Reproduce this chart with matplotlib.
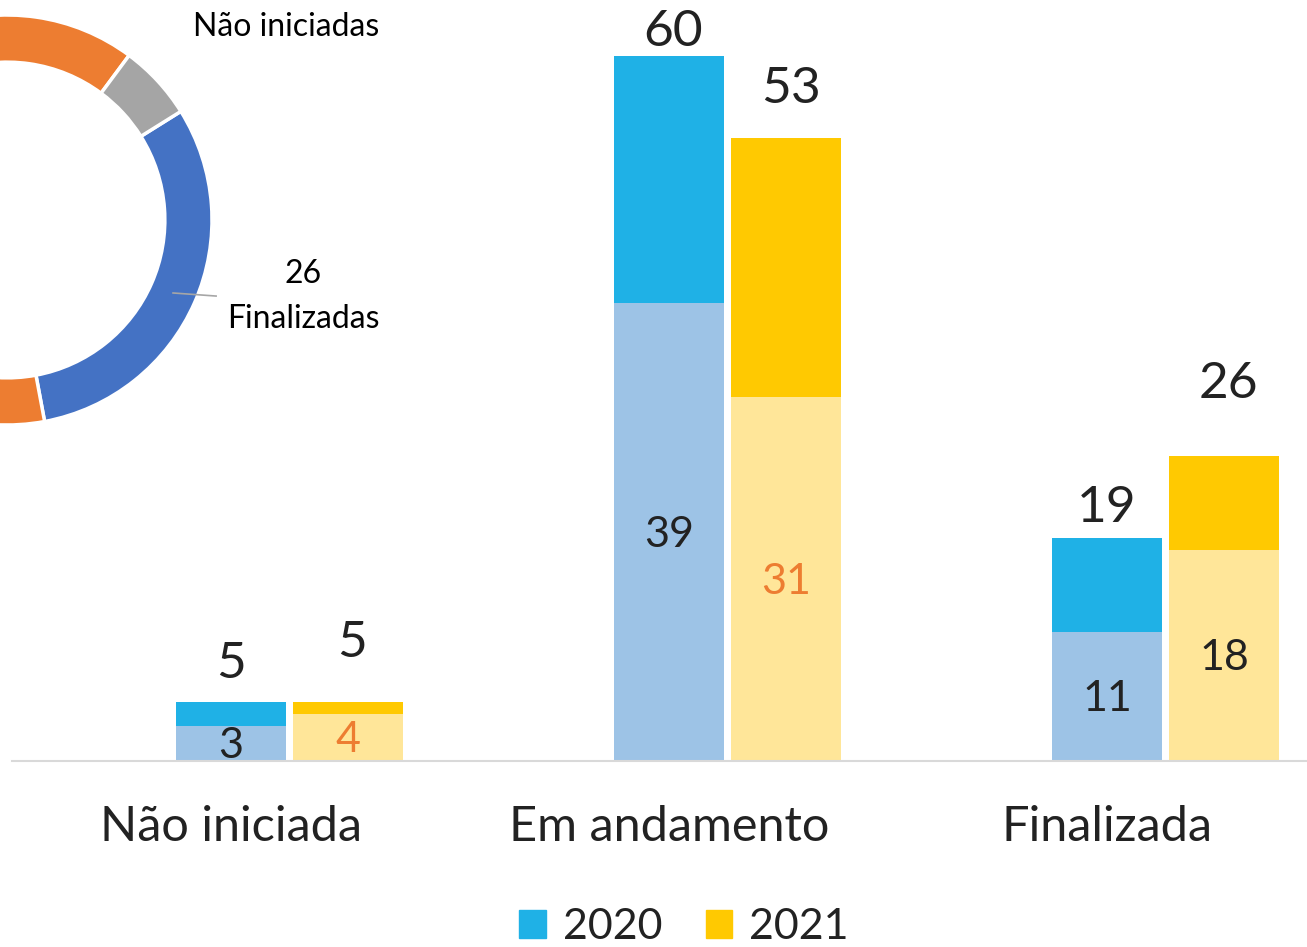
import matplotlib.pyplot as plt
from matplotlib.patches import Patch

plt.rcParams['font.family'] = ['Lato', 'DejaVu Sans']

categories = ["Não iniciada", "Em andamento", "Finalizada"]
years = ["2020", "2021"]
low_2020 = [3, 39, 11]
total_2020 = [5, 60, 19]
low_2021 = [4, 31, 18]
total_2021 = [5, 53, 26]

donut_labels = ["Finalizadas", "Em andamento", "Não iniciadas"]
donut_values = [26, 53, 5]

# colours
c20_top, c20_low = "#1FB1E6", "#9DC3E6"
c21_top, c21_low = "#FFC901", "#FFE699"
donut_colors = ["#4472C4", "#ED7D31", "#A5A5A5"]
txt = "#222222"
orange_txt = "#ED7D31"

W, H = 1307, 947
fig = plt.figure(figsize=(W / 100, H / 100), dpi=100)

# bar axes: x from -0.5..2.5 spans 1314 px starting at x=12, baseline at y=761
ppu = 11.75
ax = fig.add_axes([12 / W, (H - 761) / H, 1314 / W, 761 / H])
ax.set_xlim(-0.5, 2.5)
ax.set_ylim(0, 761 / ppu)

bw = 0.251
shift = 0.268
x20 = [i for i in range(len(categories))]
x21 = [i + shift for i in range(len(categories))]
top_2020 = [t - l for t, l in zip(total_2020, low_2020)]
top_2021 = [t - l for t, l in zip(total_2021, low_2021)]

ax.bar(x20, low_2020, width=bw, color=c20_low)
ax.bar(x20, top_2020, width=bw, bottom=low_2020, color=c20_top)
ax.bar(x21, low_2021, width=bw, color=c21_low)
ax.bar(x21, top_2021, width=bw, bottom=low_2021, color=c21_top)

# inner labels
inner_col_2020 = [txt, txt, txt]
inner_col_2021 = [orange_txt, orange_txt, txt]
for x, v, c in zip(x20, low_2020, inner_col_2020):
    ax.annotate(str(v), (x, v / 2), xytext=(0, -2), textcoords="offset points",
                ha="center", va="center", fontsize=31, color=c)
for x, v, c in zip(x21, low_2021, inner_col_2021):
    ax.annotate(str(v), (x, v / 2), xytext=(0, -2), textcoords="offset points",
                ha="center", va="center", fontsize=31, color=c)

# total labels (offsets in points above bar top)
off_2020 = [11, 1, 5]
off_2021 = [26, 19, 35]
for x, v, o in zip(x20, total_2020, off_2020):
    ax.annotate(str(v), (x, v), xytext=(3 if v == 60 else 0, o), textcoords="offset points",
                ha="center", va="bottom", fontsize=37, color=txt)
for x, v, o in zip(x21, total_2021, off_2021):
    ax.annotate(str(v), (x, v), xytext=(3, o), textcoords="offset points",
                ha="center", va="bottom", fontsize=37, color=txt)

ax.set_xticks(x20)
ax.set_xticklabels(categories, fontsize=35, color=txt)
ax.tick_params(axis="x", length=0, pad=32)
ax.set_yticks([])
for s in ["top", "left", "right"]:
    ax.spines[s].set_visible(False)
ax.spines["bottom"].set_color("#D9D9D9")
ax.spines["bottom"].set_linewidth(1.5)
ax.patch.set_alpha(0)

handles = [Patch(color=c20_top), Patch(color=c21_top)]
fig.legend(handles, years, loc="center", bbox_to_anchor=(684 / W, (H - 927) / H),
           ncol=2, frameon=False, fontsize=31, handlelength=0.62, handleheight=0.62,
           handletextpad=0.4, columnspacing=1.0, labelcolor=txt)

# donut, center at (7, 220) px, outer radius 205 px
R = 205
dax = fig.add_axes([(7 - R) / W, (H - 220 - R) / H, 2 * R / W, 2 * R / H])
dax.pie(donut_values, colors=donut_colors, startangle=32, counterclock=False,
        radius=1, wedgeprops=dict(width=0.23, edgecolor="white", linewidth=2.5))
dax.set_xlim(-1, 1)
dax.set_ylim(-1, 1)
dax.set_aspect("equal")
dax.axis("off")
dax.text(1.361, 0.94, donut_labels[2], ha="center", va="center", fontsize=23, color="black")
dax.text(1.444, -0.263, str(donut_values[0]), ha="center", va="center", fontsize=23, color="black")
dax.text(1.444, -0.483, donut_labels[0], ha="center", va="center", fontsize=23, color="black")
dax.plot([0.81, 1.02], [-0.356, -0.371], color="#A6A6A6", lw=1.2, clip_on=False)

fig.savefig("out.png", dpi=100)
